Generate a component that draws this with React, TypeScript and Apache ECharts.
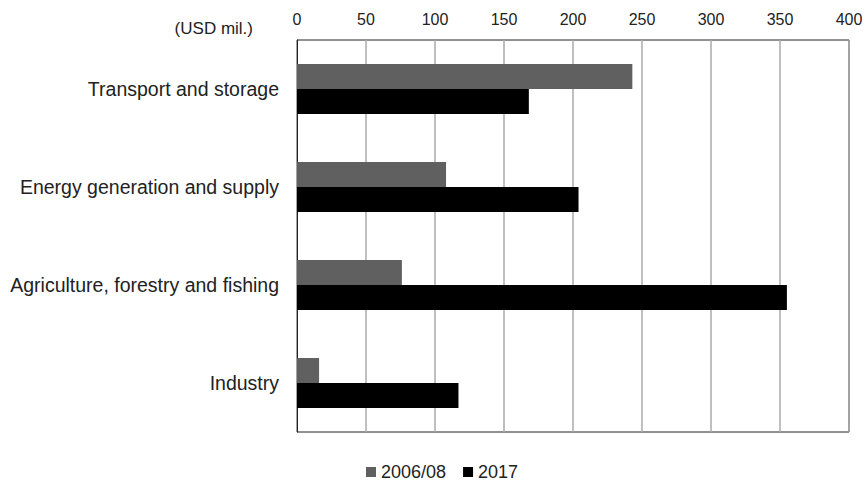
import React, { useEffect, useRef } from "react";
import * as echarts from "echarts";

const categories = [
  "Transport and storage",
  "Energy generation and supply",
  "Agriculture, forestry and fishing",
  "Industry",
];
const series2006 = [243, 108, 76, 16];
const series2017 = [168, 204, 355, 117];
const seriesNames = ["2006/08", "2017"];
const unitLabel = "(USD mil.)";

export default function App() {
  const ref = useRef<HTMLDivElement>(null);
  useEffect(() => {
    if (!ref.current) return;
    const chart = echarts.init(ref.current, null, { renderer: "svg" });
    const font = "Liberation Sans, Arial, sans-serif";
    chart.setOption({
      animation: false,
      backgroundColor: "#fff",
      textStyle: { fontFamily: font },
      grid: {
        left: 297,
        right: 17,
        top: 40,
        bottom: 50,
        show: true,
        borderColor: "#222",
        borderWidth: 1,
        containLabel: false,
      },
      graphic: [
        {
          type: "text",
          x: 253,
          y: 28,
          style: {
            text: unitLabel,
            fontSize: 17,
            fontFamily: font,
            fill: "#222",
            align: "right",
            verticalAlign: "middle",
          },
        },
      ],
      legend: {
        top: 463,
        left: 366,
        padding: 0,
        icon: "rect",
        itemWidth: 10,
        itemHeight: 10,
        itemGap: 17,
        textStyle: { fontSize: 18, color: "#222", fontFamily: font },
        data: seriesNames,
      },
      xAxis: {
        type: "value",
        position: "top",
        min: 0,
        max: 400,
        interval: 50,
        axisLine: { show: false },
        axisTick: { show: false },
        axisLabel: { fontSize: 16, color: "#222", margin: 13, fontFamily: font },
        splitLine: { show: true, lineStyle: { color: "#aaaaaa", width: 1.5 } },
      },
      yAxis: {
        type: "category",
        inverse: true,
        data: categories,
        axisLine: { show: true, lineStyle: { color: "#222" } },
        axisTick: { show: false },
        axisLabel: { fontSize: 19.5, color: "#222", margin: 18, fontFamily: font },
      },
      series: [
        {
          name: seriesNames[0],
          type: "bar",
          data: series2006,
          itemStyle: { color: "#606060" },
          barGap: "0%",
          barCategoryGap: "49%",
        },
        {
          name: seriesNames[1],
          type: "bar",
          data: series2017,
          itemStyle: { color: "#000000" },
          barGap: "0%",
          barCategoryGap: "49%",
        },
      ],
    });
    return () => chart.dispose();
  }, []);
  return <div ref={ref} style={{ width: 866, height: 482, position: "absolute", left: 0, top: 0 }} />;
}
